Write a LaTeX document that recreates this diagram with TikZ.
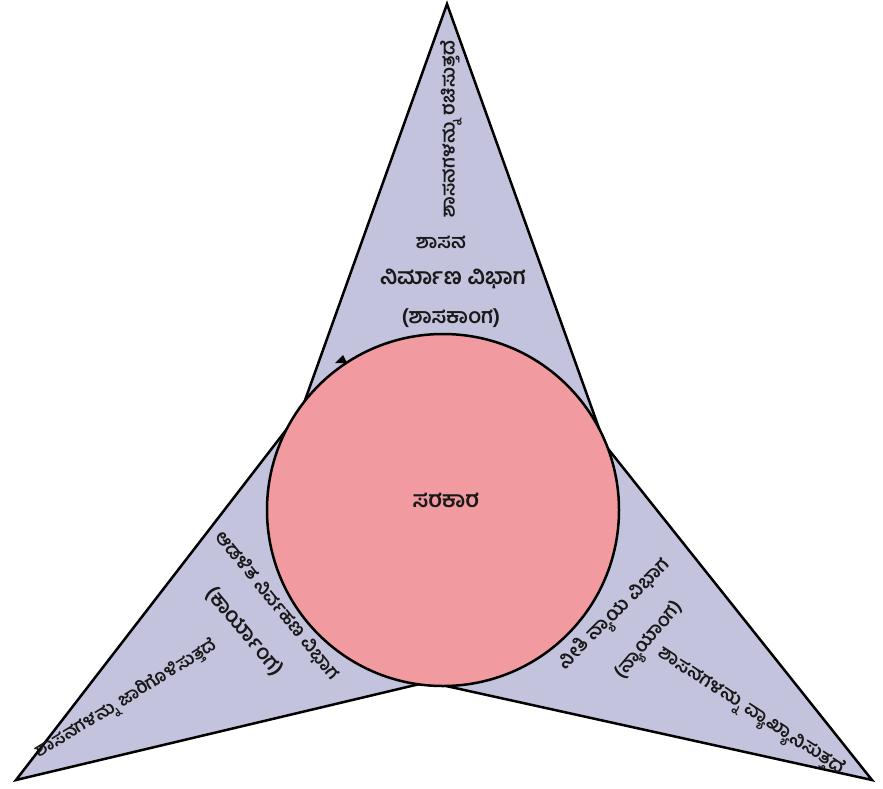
\documentclass[tikz,border=0pt]{standalone}
\usepackage{fontspec}
\newfontfamily\kn[Script=Kannada]{Hind Mysuru}
\definecolor{spike}{RGB}{196,195,222}
\definecolor{core}{RGB}{241,155,161}
\begin{document}
\begin{tikzpicture}[x=1pt,y=-1pt,
  txt/.style={font=\kn\bfseries\fontsize{21}{24}\selectfont, inner sep=0pt, text=black!90},
  sz/.style={font=\kn\bfseries\fontsize{#1}{#1}\selectfont},
  outline/.style={line width=2.5pt, draw=black}]
\useasboundingbox (0,0) rectangle (883,788);
\coordinate (A) at (447,4);
\coordinate (iR) at (605,445);
\coordinate (B) at (872,780);
\coordinate (iB) at (428,682);
\coordinate (C) at (16,780);
\coordinate (iL) at (301.5,410);
\filldraw[fill=spike, outline, line join=miter] (A) -- (iR) -- (B) -- (iB) -- (C) -- (iL) -- cycle;
\node[circle, minimum size=352pt, fill=core, outline] (gov) at (443,510) {};
\fill[black] (335,363) -- (343,355) -- (347,363) -- cycle;
\node[txt, sz=22.5] (govt) at (446,500) {ಸರಕಾರ};
% top spike
\node[txt, sz=19, rotate=90] (t1) at (451,129) {ಶಾಸನಗಳನ್ನು ರಚಿಸುತ್ತದೆ};
\node[txt, sz=19.5] (t2) at (441,242) {ಶಾಸನ};
\node[txt, sz=22.5] (t3) at (453,279) {ನಿರ್ಮಾಣ ವಿಭಾಗ};
\node[txt] (t4) at (451,318) {(ಶಾಸಕಾಂಗ)};
% left spike
\node[txt, sz=19, rotate=-51] (l1) at (277,606) {ಆಡಳಿತ ನಿರ್ವಹಣ ವಿಭಾಗ};
\node[txt, rotate=-50] (l2) at (244,632) {(ಕಾರ್ಯಾಂಗ)};
\node[txt, sz=18, rotate=31.5] (l3) at (127,700) {ಶಾಸನಗಳನ್ನು ಜಾರಿಗೊಳಿಸುತ್ತದೆ};
% right spike
\node[txt, sz=19.5, rotate=45] (r1) at (615,615) {ನೀತಿ ನ್ಯಾಯ ವಿಭಾಗ};
\node[txt, sz=19, rotate=50] (r2) at (650,641) {(ನ್ಯಾಯಾಂಗ)};
\node[txt, sz=19, rotate=-33] (r3) at (751,712) {ಶಾಸನಗಳನ್ನು ವ್ಯಾಖ್ಯಾನಿಸುತ್ತದೆ};
\end{tikzpicture}
\end{document}
